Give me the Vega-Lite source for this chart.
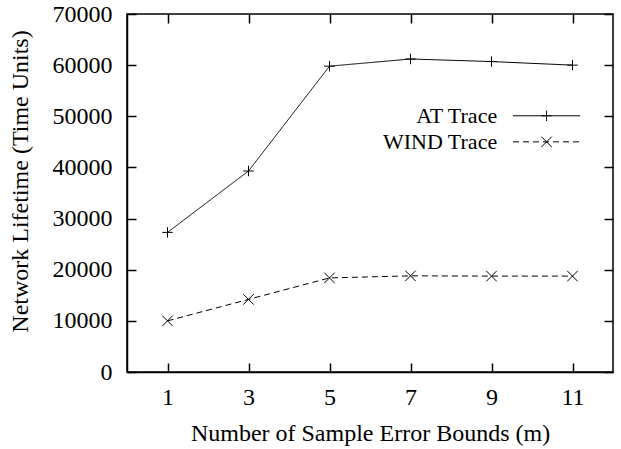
{
  "$schema": "https://vega.github.io/schema/vega-lite/v6.json",
  "autosize": {"type": "none"},
  "padding": {"left": 127, "top": 14, "right": 8, "bottom": 77},
  "width": 486,
  "height": 358,
  "background": "white",
  "config": {
    "font": "Liberation Serif",
    "view": {"stroke": "black", "strokeWidth": 1.5},
    "axis": {
      "labelFont": "Liberation Serif",
      "titleFont": "Liberation Serif",
      "labelFontSize": 24,
      "titleFontSize": 24,
      "titleFontWeight": "normal",
      "labelColor": "black",
      "titleColor": "black",
      "domainColor": "black",
      "tickColor": "black",
      "domainWidth": 1.5,
      "tickWidth": 1.5,
      "grid": false
    }
  },
  "datasets": {
    "series": [
      {"bound": 1, "lifetime": 27300, "trace": "AT Trace"},
      {"bound": 3, "lifetime": 39300, "trace": "AT Trace"},
      {"bound": 5, "lifetime": 59800, "trace": "AT Trace"},
      {"bound": 7, "lifetime": 61200, "trace": "AT Trace"},
      {"bound": 9, "lifetime": 60700, "trace": "AT Trace"},
      {"bound": 11, "lifetime": 60000, "trace": "AT Trace"},
      {"bound": 1, "lifetime": 10000, "trace": "WIND Trace"},
      {"bound": 3, "lifetime": 14200, "trace": "WIND Trace"},
      {"bound": 5, "lifetime": 18400, "trace": "WIND Trace"},
      {"bound": 7, "lifetime": 18800, "trace": "WIND Trace"},
      {"bound": 9, "lifetime": 18750, "trace": "WIND Trace"},
      {"bound": 11, "lifetime": 18750, "trace": "WIND Trace"}
    ],
    "legend": [
      {"trace": "AT Trace", "tx": 9.14, "x1": 9.53, "x2": 11.19, "xm": 10.36, "ly": 50100},
      {"trace": "WIND Trace", "tx": 9.14, "x1": 9.53, "x2": 11.19, "xm": 10.36, "ly": 45000}
    ]
  },
  "resolve": {"axis": {"x": "independent", "y": "independent"}},
  "layer": [
    {
      "data": {"name": "series"},
      "mark": {"type": "line", "color": "black", "strokeWidth": 1},
      "encoding": {
        "x": {"field": "bound", "type": "quantitative",
          "scale": {"domain": [0, 12], "nice": false, "zero": false},
          "axis": {"values": [1, 3, 5, 7, 9, 11], "tickSize": -9, "labelPadding": 22, "title": "Number of Sample Error Bounds (m)", "titlePadding": 12}},
        "y": {"field": "lifetime", "type": "quantitative",
          "scale": {"domain": [0, 70000], "nice": false},
          "axis": {"values": [0, 10000, 20000, 30000, 40000, 50000, 60000, 70000], "format": "d", "tickSize": -9, "labelPadding": 24, "title": "Network Lifetime (Time Units)", "titleX": -95, "titleY": 167}},
        "strokeDash": {"field": "trace", "type": "nominal",
          "scale": {"domain": ["AT Trace", "WIND Trace"], "range": [[1, 0], [6, 4]]}, "legend": null},
        "detail": {"field": "trace"}
      }
    },
    {
      "data": {"name": "series"},
      "mark": {"type": "point", "filled": false, "color": "black", "strokeWidth": 1, "size": 110, "opacity": 1},
      "encoding": {
        "x": {"field": "bound", "type": "quantitative",
          "axis": {"orient": "top", "values": [1, 3, 5, 7, 9, 11], "tickSize": -9, "labels": false, "domain": false, "title": null}},
        "y": {"field": "lifetime", "type": "quantitative",
          "axis": {"orient": "right", "values": [0, 10000, 20000, 30000, 40000, 50000, 60000, 70000], "tickSize": -9, "labels": false, "domain": false, "title": null}},
        "shape": {"field": "trace", "type": "nominal",
          "scale": {"domain": ["AT Trace", "WIND Trace"], "range": ["M-1,0L1,0M0,-1L0,1", "M-1,-1L1,1M-1,1L1,-1"]}, "legend": null}
      }
    },
    {
      "data": {"name": "legend"},
      "mark": {"type": "rule", "color": "black", "strokeWidth": 1},
      "encoding": {
        "x": {"field": "x1", "type": "quantitative", "axis": null},
        "x2": {"field": "x2"},
        "y": {"field": "ly", "type": "quantitative", "axis": null},
        "strokeDash": {"field": "trace", "type": "nominal", "legend": null}
      }
    },
    {
      "data": {"name": "legend"},
      "mark": {"type": "point", "filled": false, "color": "black", "strokeWidth": 1, "size": 110, "opacity": 1},
      "encoding": {
        "x": {"field": "xm", "type": "quantitative", "axis": null},
        "y": {"field": "ly", "type": "quantitative", "axis": null},
        "shape": {"field": "trace", "type": "nominal", "legend": null}
      }
    },
    {
      "data": {"name": "legend"},
      "mark": {"type": "text", "align": "right", "baseline": "middle", "font": "Liberation Serif", "fontSize": 22, "color": "black"},
      "encoding": {
        "x": {"field": "tx", "type": "quantitative", "axis": null},
        "y": {"field": "ly", "type": "quantitative", "axis": null},
        "text": {"field": "trace"}
      }
    }
  ]
}
